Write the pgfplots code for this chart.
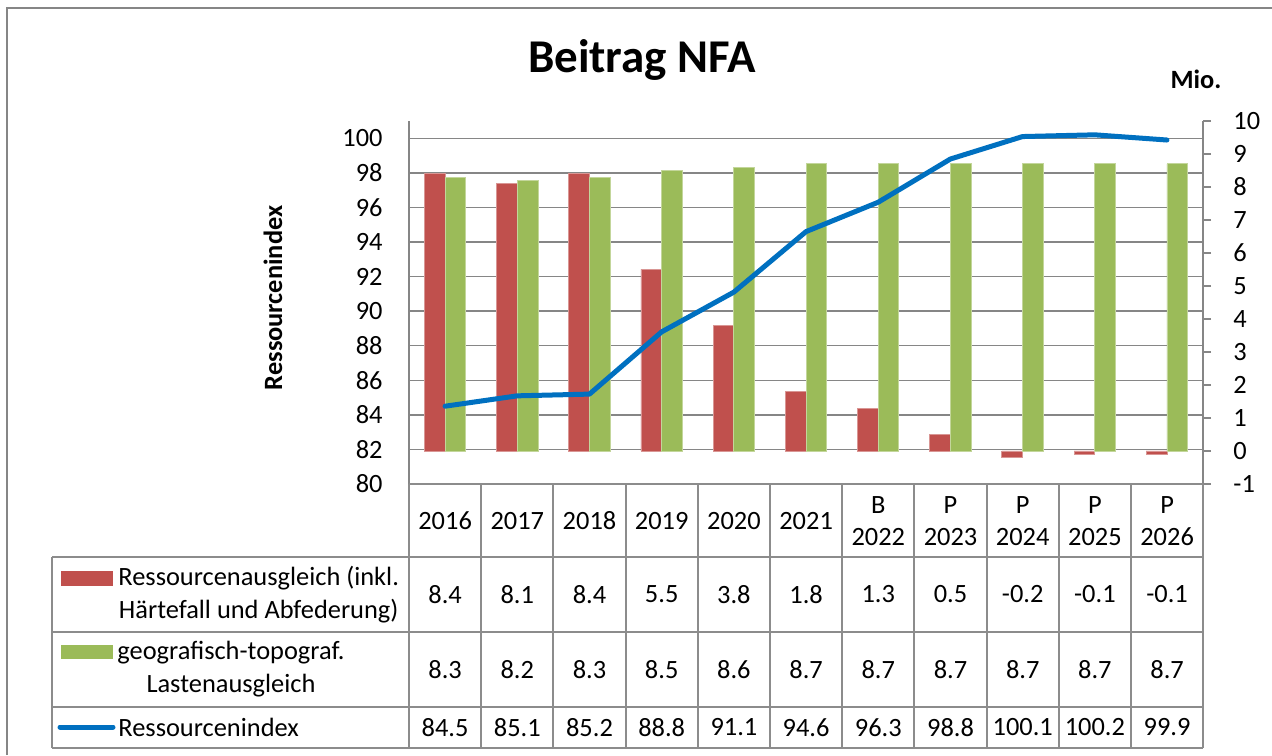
\documentclass[border=0pt]{standalone}
\usepackage{fontspec}
\setmainfont{Carlito}
\usepackage{pgfplots}
\usepackage{pgfplotstable}
\pgfplotsset{compat=1.18}
\definecolor{bared}{RGB}{192,80,77}
\definecolor{bagreen}{RGB}{155,187,89}
\definecolor{bablue}{RGB}{0,112,192}
\definecolor{gridgray}{RGB}{134,134,134}
\definecolor{tabgray}{RGB}{140,140,140}
\newcommand\tf{\fontsize{13.2pt}{16.5pt}\selectfont}

% Jahr, Ressourcenausgleich, geo-topo Lastenausgleich (Mio.), Ressourcenindex
\pgfplotstableread{
x res geo idx
1 8.4 8.3 84.5
2 8.1 8.2 85.1
3 8.4 8.3 85.2
4 5.5 8.5 88.8
5 3.8 8.6 91.1
6 1.8 8.7 94.6
7 1.3 8.7 96.3
8 0.5 8.7 98.8
9 -0.2 8.7 100.1
10 -0.1 8.7 100.2
11 -0.1 8.7 99.9
}\nfadata

\pgfplotsset{base/.style={scale only axis, width=397pt, height=181.5pt,
  at={(204.5pt,135.5pt)}, anchor=south west, xmin=0.5, xmax=11.5, clip=false}}

\begin{document}
\begin{tikzpicture}
\useasboundingbox (0,0) rectangle (636pt,377.5pt);
% left axis with gridlines
\begin{axis}[base, ymin=80, ymax=101, ytick={80,82,...,100},
  yticklabels={80,82,84,86,88,90,92,94,96,98,100},
  ymajorgrids, grid style={gridgray, line width=0.7pt},
  axis x line=none, axis y line*=left, xtick=\empty,
  axis line style={gridgray, line width=1pt, -}, major tick length=0pt,
  yticklabel style={anchor=east, inner sep=0pt, xshift=-13pt, font=\tf}]
\addplot[draw=none, forget plot] table[x=x,y=idx]{\nfadata};
\end{axis}
% right axis with bars
\begin{axis}[base, ymin=-1, ymax=10, ytick={-1,0,...,10},
  yticklabels={-1,0,1,2,3,4,5,6,7,8,9,10},
  axis x line=none, axis y line*=right, xtick=\empty,
  axis line style={gridgray, line width=1pt, -},
  tick align=outside, major tick length=4pt, tick style={gridgray, line width=1pt},
  yticklabel style={anchor=west, inner sep=0pt, xshift=11pt, font=\tf},
  ybar=0pt, bar width=10.35pt]
\addplot[fill=bared, draw=bared!60!white, line width=0.4pt] table[x=x,y=res]{\nfadata};
\addplot[fill=bagreen, draw=bagreen!60!white, line width=0.4pt] table[x=x,y=geo]{\nfadata};
\end{axis}
% line on left axis
\begin{axis}[base, hide axis, ymin=80, ymax=101]
\addplot[bablue, line width=2.5pt, line join=round, line cap=round] table[x=x,y=idx]{\nfadata};
\end{axis}

\begin{scope}[x=0.5pt, y=-0.5pt, yshift=377.5pt]
% frame
\draw[gridgray, line width=0.8pt] (7,755) -- (7,8) -- (1272,8);
% titles
\node[font=\fontsize{23.5pt}{27pt}\selectfont\bfseries, anchor=base] at (642,73) {Beitrag NFA};
\node[font=\tf\bfseries, anchor=base] at (1196,89) {Mio.};
\node[font=\tf\bfseries, rotate=90, anchor=center] at (273,298) {Ressourcenindex};
% data table
\foreach \k in {0,...,11}
  \draw[tabgray, line width=1pt] ({409+72.2*\k},484) -- ({409+72.2*\k},748);
\draw[tabgray, line width=1pt] (52,557) -- (52,748);
\draw[tabgray, line width=1pt] (409,484) -- (1203,484);
\foreach \yy in {557,632,707,748}
  \draw[tabgray, line width=1pt] (52,\yy) -- (1203,\yy);
\foreach \lab [count=\i] in {2016,2017,2018,2019,2020,2021,B\\2022,P\\2023,P\\2024,P\\2025,P\\2026}
  \node[font=\fontsize{13.2pt}{16pt}\selectfont, align=center] at ({409+72.2*(\i-0.5)},521) {\lab};
\foreach \v [count=\i] in {8.4,8.1,8.4,5.5,3.8,1.8,1.3,0.5,-0.2,-0.1,-0.1}
  \node[font=\tf] at ({409+72.2*(\i-0.5)},594.5) {\v};
\foreach \v [count=\i] in {8.3,8.2,8.3,8.5,8.6,8.7,8.7,8.7,8.7,8.7,8.7}
  \node[font=\tf] at ({409+72.2*(\i-0.5)},669.5) {\v};
\foreach \v [count=\i] in {84.5,85.1,85.2,88.8,91.1,94.6,96.3,98.8,100.1,100.2,99.9}
  \node[font=\tf] at ({409+72.2*(\i-0.5)},727.5) {\v};
% legend keys
\fill[bared] (61,571) rectangle (113,586);
\fill[bagreen] (61,645) rectangle (113,659);
\draw[bablue, line width=2.5pt, line cap=round] (60,727) -- (113,727);
\node[font=\tf, anchor=west, align=center, inner sep=0pt] at (118,594.5) {Ressourcenausgleich (inkl.\\Härtefall und Abfederung)};
\node[font=\tf, anchor=west, align=center, inner sep=0pt] at (117,669.5) {geografisch-topograf.\\Lastenausgleich};
\node[font=\tf, anchor=west, inner sep=0pt] at (118,727.5) {Ressourcenindex};
\end{scope}
\end{tikzpicture}
\end{document}
